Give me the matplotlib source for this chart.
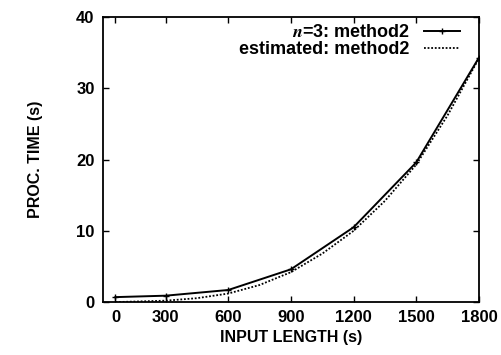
import matplotlib
matplotlib.use("Agg")
import matplotlib.pyplot as plt

plt.rcParams['font.family'] = ['Liberation Sans', 'DejaVu Sans']
plt.rcParams['font.weight'] = 'bold'
plt.rcParams['mathtext.fontset'] = 'stix'

# measured (n=3: method2)
x_meas = [60, 300, 600, 900, 1200, 1500, 1800]
y_meas = [0.7, 0.9, 1.7, 4.6, 10.5, 19.6, 34.3]

# estimated curve
x_est = [60, 300, 450, 600, 750, 900, 1050, 1200, 1350, 1500, 1650, 1800]
y_est = [0.0, 0.2, 0.55, 1.2, 2.4, 4.2, 6.8, 10.0, 14.2, 19.3, 26.2, 34.2]

xtick_pos = [60, 300, 600, 900, 1200, 1500, 1800]
xtick_lab = ['0', '300', '600', '900', '1200', '1500', '1800']
ytick_pos = [0, 10, 20, 30, 40]

fig = plt.figure(figsize=(5.02, 3.55), dpi=100)
ax = fig.add_axes([0.205, 0.149, 0.749, 0.803])

ax.plot(x_meas, y_meas, color='black', lw=1.4, marker='+', ms=4, mew=1,
        label=r'$n$=3: method2')
ax.plot(x_est, y_est, color='black', lw=1.3, ls=(0, (1, 1)),
        label='estimated: method2')

ax.set_xlim(0, 1800)
ax.set_ylim(0, 40)
ax.set_xticks(xtick_pos)
ax.set_xticklabels(xtick_lab)
ax.set_yticks(ytick_pos)
ax.tick_params(direction='in', top=True, right=True, length=4, width=1,
               labelsize=12, pad=6)
for s in ax.spines.values():
    s.set_linewidth(1.3)

ax.set_xlabel('INPUT LENGTH (s)', fontsize=11.5, fontweight='bold', labelpad=3)
ax.set_ylabel('PROC. TIME (s)', fontsize=11.5, fontweight='bold', labelpad=24)

leg = ax.legend(loc='upper right', frameon=False, markerfirst=False,
                fontsize=13, handlelength=2.0, handletextpad=0.8,
                labelspacing=0.0, borderaxespad=0, borderpad=0,
                bbox_to_anchor=(0.95, 0.975))

fig.savefig('out.png', dpi=100)
